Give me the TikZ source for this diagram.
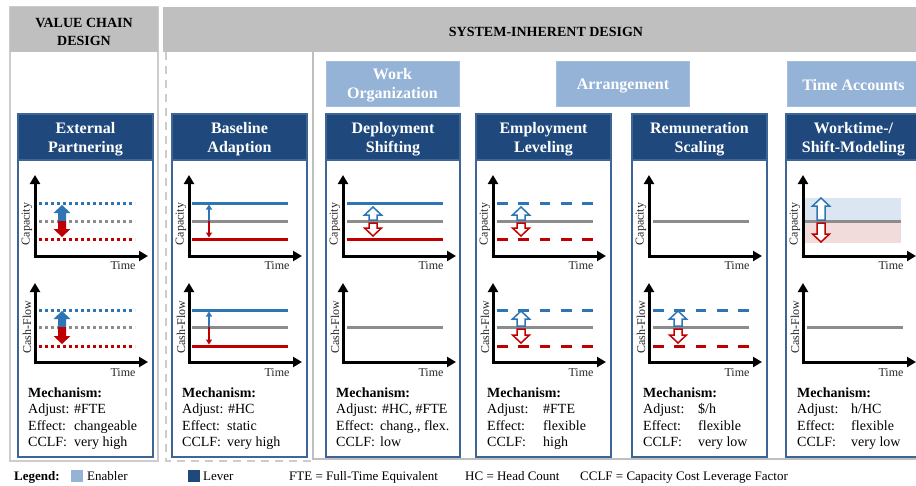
\documentclass[tikz,border=0pt]{standalone}
\usepackage{fontspec}
\setmainfont{Liberation Serif}
\usetikzlibrary{arrows.meta}
\definecolor{hdrgray}{HTML}{BFBFBF}
\definecolor{pangray}{HTML}{CCCCCC}
\definecolor{lever}{HTML}{1F497D}
\definecolor{boxblue}{HTML}{3F6597}
\definecolor{enabler}{HTML}{95B3D7}
\definecolor{lnblue}{HTML}{2E75B6}
\definecolor{lnred}{HTML}{C00000}
\definecolor{lngray}{HTML}{8C8C8C}
\definecolor{shblue}{HTML}{DCE6F2}
\definecolor{shred}{HTML}{F2DCDB}
\tikzset{
 toptitle/.style={font=\bfseries\fontsize{14}{18}\selectfont, align=center, text=black, inner sep=0},
 leverhdr/.style={fill=lever, draw=boxblue, line width=1.5pt, minimum width=135pt, minimum height=46pt, inner sep=0, outer sep=0},
 hdrtxt/.style={text=white, font=\bfseries\fontsize{16}{19}\selectfont, align=center, inner sep=0, yshift=-2pt},
 enablerbox/.style={fill=enabler, draw=enabler!85!white, line width=1pt, minimum width=133pt, minimum height=45pt, inner sep=0, outer sep=0},
 boxline/.style={draw=boxblue, line width=1.5pt},
 axisln/.style={line width=3pt, -{Triangle[length=9pt,width=10pt]}},
 axlbl/.style={font=\fontsize{12}{14}\selectfont, inner sep=0, text=black!85},
 solidln/.style={line width=3pt},
 dotln/.style={line width=3pt, dash pattern=on 3pt off 3pt},
 dashln/.style={line width=3pt, dash pattern=on 10.7pt off 10.6pt},
 mech/.style={font=\fontsize{14}{16}\selectfont, anchor=base west, inner sep=0},
 mechb/.style={font=\bfseries\fontsize{14}{16}\selectfont, anchor=base west, inner sep=0},
 openarr/.style={line width=1.5pt, fill=white},
 thinarr/.style={line width=1.8pt, -{Triangle[length=5pt,width=6pt]}},
 legtxt/.style={font=\fontsize{13}{15}\selectfont, anchor=base west, inner sep=0},
}
% charts frame: #1 = left x of column, #2 = name suffix
\newcommand{\chartframe}[2]{%
 \draw[axisln] ({#1+17},257.5) -- ({#1+17},175);
 \draw[axisln] ({#1+15.5},256) -- ({#1+130},256);
 \node[axlbl, rotate=90] (cap#2) at ({#1+9},224) {Capacity};
 \node[axlbl, anchor=base] (t1#2) at ({#1+105},269) {Time};
 \draw[axisln] ({#1+17},363.5) -- ({#1+17},283);
 \draw[axisln] ({#1+15.5},362) -- ({#1+130},362);
 \node[axlbl, rotate=90] (cf#2) at ({#1+9},327) {Cash-Flow};
 \node[axlbl, anchor=base] (t2#2) at ({#1+105},376) {Time};
}
% block arrows: x, ybase, ytip, style
\newcommand{\blkup}[4]{%
 \draw[#4] ({#1-4},#2) -- ({#1-4},{#3+8}) -- ({#1-8.5},{#3+8}) -- (#1,#3) -- ({#1+8.5},{#3+8}) -- ({#1+4},{#3+8}) -- ({#1+4},#2) -- cycle;}
\newcommand{\blkdown}[4]{%
 \draw[#4] ({#1-4},#2) -- ({#1-4},{#3-8}) -- ({#1-8.5},{#3-8}) -- (#1,#3) -- ({#1+8.5},{#3-8}) -- ({#1+4},{#3-8}) -- ({#1+4},#2) -- cycle;}
% horizontal level line: L, y, style
\newcommand{\hl}[3]{\draw[#3] ({#1+21},#2) -- ({#1+117},#2);}
\begin{document}
\begin{tikzpicture}[x=1pt,y=-1pt]
\useasboundingbox (0,0) rectangle (916,485);
\clip (0,0) rectangle (916,485);
\fill[white] (0,0) rectangle (916,485);

% ---------- panels ----------
\draw[pangray, line width=2.5pt, fill=white] (10,7) rectangle (158,461);
\fill[hdrgray] (10,7) rectangle (158,52);
\node[toptitle] (vcd) at (84,32) {VALUE CHAIN\\DESIGN};

\fill[hdrgray] (163,7) rectangle (940,52);
\node[toptitle] (sid) at (546,32) {SYSTEM-INHERENT DESIGN};
\draw[pangray, line width=2.5pt, dash pattern=on 8pt off 6pt] (166,52) -- (166,461) -- (311,461);
\draw[hdrgray, line width=2pt] (313,52) -- (313,459) -- (940,459);

% ---------- enablers ----------
\node[enablerbox] (e1) at (392.5,83.5) {};
\node[hdrtxt] (e1t) at (e1) {Work\\Organization};
\node[enablerbox] (e2) at (623,83.5) {};
\node[hdrtxt] (e2t) at (e2) {Arrangement};
\node[enablerbox] (e3) at (853.5,83.5) {};
\node[hdrtxt] (e3t) at (e3) {Time Accounts};

% ---------- lever columns ----------
\draw[boxline] (18,114) rectangle (153,457);
\node[leverhdr] (h1) at (85.5,137) {};
\node[hdrtxt] (h1t) at (h1) {External\\Partnering};
\draw[boxline] (172,114) rectangle (307,457);
\node[leverhdr] (h2) at (239.5,137) {};
\node[hdrtxt] (h2t) at (h2) {Baseline\\Adaption};
\draw[boxline] (326,114) rectangle (460,457);
\node[leverhdr, minimum width=134pt] (h3) at (393,137) {};
\node[hdrtxt] (h3t) at (h3) {Deployment\\Shifting};
\draw[boxline] (476,114) rectangle (611,457);
\node[leverhdr] (h4) at (543.5,137) {};
\node[hdrtxt] (h4t) at (h4) {Employment\\Leveling};
\draw[boxline] (632,114) rectangle (767,457);
\node[leverhdr] (h5) at (699.5,137) {};
\node[hdrtxt] (h5t) at (h5) {Remuneration\\Scaling};
\draw[boxline] (786,114) rectangle (921,457);
\node[leverhdr] (h6) at (853.5,137) {};
\node[hdrtxt] (h6t) at (h6) {Worktime-/\\Shift-Modeling};

% ---------- col 1 : External Partnering ----------
\chartframe{18}{a}
\hl{18}{203}{dotln,lnblue}\hl{18}{221}{dotln,lngray}\hl{18}{239}{dotln,lnred}
\blkup{62}{221}{205}{fill=lnblue,draw=none}\blkdown{62}{221}{237}{fill=lnred,draw=none}
\hl{18}{310}{dotln,lnblue}\hl{18}{327}{dotln,lngray}\hl{18}{346}{dotln,lnred}
\blkup{62}{327}{311}{fill=lnblue,draw=none}\blkdown{62}{327}{344}{fill=lnred,draw=none}

% ---------- col 2 : Baseline Adaption ----------
\chartframe{172}{b}
\hl{171}{203}{solidln,lnblue}\hl{171}{221}{solidln,lngray}\hl{171}{239}{solidln,lnred}
\draw[thinarr,lnblue] (209,221) -- (209,204.5);
\draw[thinarr,lnred] (209,221) -- (209,237.5);
\hl{171}{310}{solidln,lnblue}\hl{171}{327}{solidln,lngray}\hl{171}{346}{solidln,lnred}
\draw[thinarr,lnblue] (209,327) -- (209,311.5);
\draw[thinarr,lnred] (209,327) -- (209,344.5);

% ---------- col 3 : Deployment Shifting ----------
\chartframe{326}{c}
\hl{326}{203}{solidln,lnblue}\hl{326}{221}{solidln,lngray}\hl{326}{239}{solidln,lnred}
\blkup{373}{220}{207}{openarr,draw=lnblue}\blkdown{373}{223}{236}{openarr,draw=lnred}
\hl{326}{327}{solidln,lngray}

% ---------- col 4 : Employment Leveling ----------
\chartframe{476}{d}
\hl{476}{203}{dashln,lnblue}\hl{476}{221}{solidln,lngray}\hl{476}{239}{dashln,lnred}
\blkup{521}{220}{207}{openarr,draw=lnblue}\blkdown{521}{223}{236}{openarr,draw=lnred}
\hl{476}{310}{dashln,lnblue}\hl{476}{327}{solidln,lngray}\hl{476}{346}{dashln,lnred}
\blkup{521}{326}{311}{openarr,draw=lnblue}\blkdown{521}{329}{343}{openarr,draw=lnred}

% ---------- col 5 : Remuneration Scaling ----------
\chartframe{632}{e}
\hl{632}{221}{solidln,lngray}
\hl{632}{310}{dashln,lnblue}\hl{632}{327}{solidln,lngray}\hl{632}{346}{dashln,lnred}
\blkup{678}{326}{311}{openarr,draw=lnblue}\blkdown{678}{329}{343}{openarr,draw=lnred}

% ---------- col 6 : Worktime-/Shift-Modeling ----------
\fill[shblue] (805,198) rectangle (901,221);
\fill[shred] (805,221) rectangle (901,243);
\chartframe{786}{f}
\draw[solidln,lngray] (805,221) -- (901,221);
\blkup{821}{220}{198}{openarr,draw=lnblue}\blkdown{821}{223}{242}{openarr,draw=lnred}
\hl{786}{327}{solidln,lngray}

% ---------- mechanisms ----------
\node[mechb] (m1) at (28,397) {Mechanism:};
\node[mech] (m1a) at (28,413) {Adjust: \#FTE};
\node[mech] (m1e) at (28,430) {Effect:};
\node[mech] (m1ev) at (74,430) {changeable};
\node[mech] (m1c) at (28,446) {CCLF:};
\node[mech] (m1cv) at (74,446) {very high};

\node[mechb] (m2) at (182,397) {Mechanism:};
\node[mech] (m2a) at (182,413) {Adjust: \#HC};
\node[mech] (m2e) at (182,430) {Effect:};
\node[mech] (m2ev) at (227,430) {static};
\node[mech] (m2c) at (182,446) {CCLF:};
\node[mech] (m2cv) at (227,446) {very high};

\node[mechb] (m3) at (336,397) {Mechanism:};
\node[mech] (m3a) at (336,413) {Adjust: \#HC, \#FTE};
\node[mech] (m3e) at (336,430) {Effect:};
\node[mech] (m3ev) at (380,430) {chang., flex.};
\node[mech] (m3c) at (336,446) {CCLF:};
\node[mech] (m3cv) at (380,446) {low};

\node[mechb] (m4) at (487,397) {Mechanism:};
\node[mech] (m4a) at (487,413) {Adjust:};
\node[mech] (m4av) at (543,413) {\#FTE};
\node[mech] (m4e) at (487,430) {Effect:};
\node[mech] (m4ev) at (543,430) {flexible};
\node[mech] (m4c) at (487,446) {CCLF:};
\node[mech] (m4cv) at (543,446) {high};

\node[mechb] (m5) at (643,397) {Mechanism:};
\node[mech] (m5a) at (643,413) {Adjust:};
\node[mech] (m5av) at (698,413) {\$/h};
\node[mech] (m5e) at (643,430) {Effect:};
\node[mech] (m5ev) at (698,430) {flexible};
\node[mech] (m5c) at (643,446) {CCLF:};
\node[mech] (m5cv) at (698,446) {very low};

\node[mechb] (m6) at (797,397) {Mechanism:};
\node[mech] (m6a) at (797,413) {Adjust:};
\node[mech] (m6av) at (851,413) {h/HC};
\node[mech] (m6e) at (797,430) {Effect:};
\node[mech] (m6ev) at (851,430) {flexible};
\node[mech] (m6c) at (797,446) {CCLF:};
\node[mech] (m6cv) at (851,446) {very low};

% ---------- legend ----------
\node[legtxt, font=\bfseries\fontsize{13}{15}\selectfont] (lg) at (14,480) {Legend:};
\fill[enabler] (71,470) rectangle (83,482);
\node[legtxt] (lge) at (87,480) {Enabler};
\fill[lever] (188,470) rectangle (200,482);
\node[legtxt] (lgl) at (203,480) {Lever};
\node[legtxt] (lgf) at (289,480) {FTE = Full-Time Equivalent};
\node[legtxt] (lgh) at (465,480) {HC = Head Count};
\node[legtxt] (lgc) at (580,480) {CCLF = Capacity Cost Leverage Factor};
\end{tikzpicture}
\end{document}
